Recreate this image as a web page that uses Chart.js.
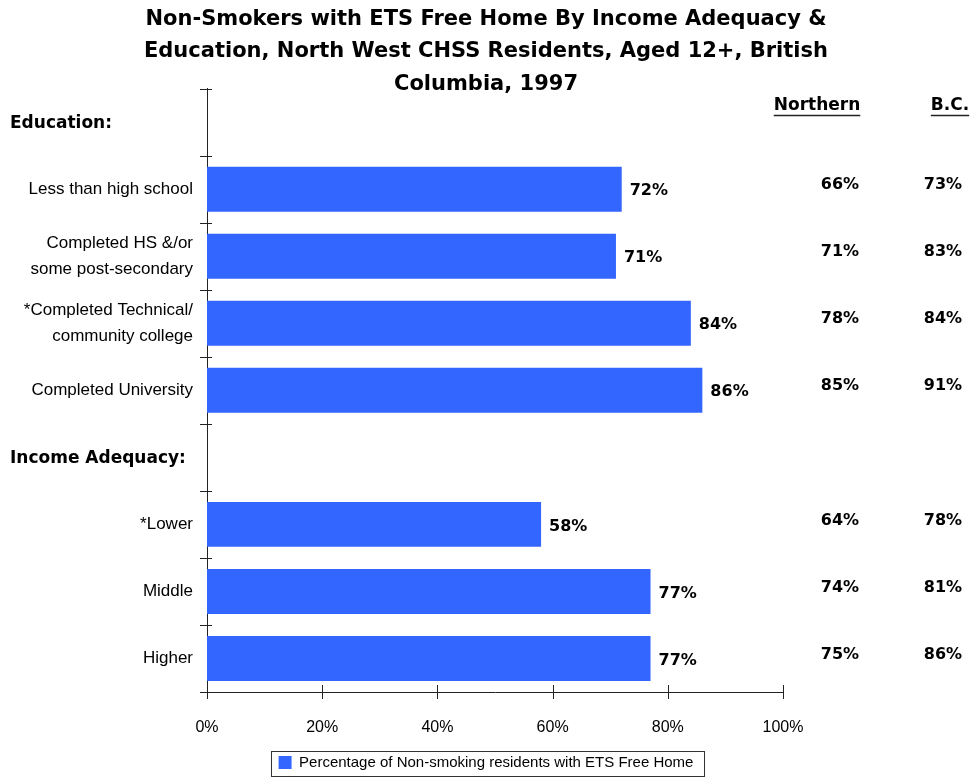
<!DOCTYPE html>
<html>
<head>
<meta charset="utf-8">
<script src="https://cdn.jsdelivr.net/npm/chart.js@4.4.0/dist/chart.umd.min.js"></script>
<style>
html, body { margin: 0; padding: 0; background: #fff; }
</style>
</head>
<body>
<canvas id="myChart" width="972" height="780"></canvas>
<script>
// rows of the chart, empty label = group header row
var labels = ['', 'Less than high school', ['Completed HS &/or', 'some post-secondary'],
  ['*Completed Technical/', 'community college'], 'Completed University',
  '', '*Lower', 'Middle', 'Higher'];
var groups = ['Education:', '', '', '', '', 'Income Adequacy:', '', '', ''];

// North West CHSS (bars), Northern and B.C. (comparison columns)
var northWest = [null, 72, 71, 84, 86, null, 58, 77, 77];
var northern  = [null, 66, 71, 78, 85, null, 64, 74, 75];
var bc        = [null, 73, 83, 84, 91, null, 78, 81, 86];

var xTicks = [0, 20, 40, 60, 80, 100];

var labelFont = '"Liberation Sans", Arial, sans-serif';
var boldFont = '"DejaVu Sans", Verdana, sans-serif';

// ticks crossing the axes, headers, value labels, comparison columns
var extras = {
  id: 'extras',
  afterDraw: function(chart) {
    var c = chart.ctx, y = chart.scales.y, x = chart.scales.x, a = chart.chartArea;
    var i, py;
    c.save();
    c.strokeStyle = '#222';
    c.lineWidth = 1;
    for (i = 0; i <= labels.length; i++) {
      py = Math.round(y.getPixelForValue(i - 0.5)) + 0.5;
      c.beginPath(); c.moveTo(a.left - 7, py); c.lineTo(a.left + 5, py); c.stroke();
    }
    xTicks.forEach(function(v) {
      var px = Math.round(x.getPixelForValue(v)) + 0.5;
      c.beginPath(); c.moveTo(px, a.bottom - 7); c.lineTo(px, a.bottom + 7); c.stroke();
    });

    c.fillStyle = '#000';
    c.textBaseline = 'middle';
    c.textAlign = 'left';
    c.font = 'bold 17px ' + boldFont;
    groups.forEach(function(g, i) {
      if (g) c.fillText(g, 10, y.getPixelForValue(i) + 1);
    });

    c.font = 'bold 16px ' + boldFont;
    chart.getDatasetMeta(0).data.forEach(function(bar, i) {
      if (northWest[i] == null) return;
      c.fillText(northWest[i] + '%', bar.x + 8, bar.y + 2);
    });

    var colN = a.right + 57, colB = a.right + 160;
    c.textAlign = 'center';
    for (i = 0; i < labels.length; i++) {
      if (northern[i] == null) continue;
      py = y.getPixelForValue(i) - 4;
      c.fillText(northern[i] + '%', colN, py);
      c.fillText(bc[i] + '%', colB, py);
    }

    // column headers, underlined
    c.font = 'bold 17px ' + boldFont;
    [['Northern', a.right + 34], ['B.C.', a.right + 167]].forEach(function(h) {
      var w = c.measureText(h[0]).width;
      c.fillText(h[0], h[1], 106);
      c.beginPath();
      c.moveTo(h[1] - w / 2, 115.5); c.lineTo(h[1] + w / 2, 115.5);
      c.lineWidth = 1.5; c.stroke();
    });

    // legend frame
    var hb = chart.legend.legendHitBoxes[0];
    if (hb) {
      c.lineWidth = 1;
      c.strokeStyle = '#333';
      c.strokeRect(Math.round(hb.left - 8) + 0.5, Math.round(hb.top - 4) + 0.5,
        Math.round(hb.width + 18), Math.round(hb.height + 10));
    }
    c.restore();
  }
};

var ctx = document.getElementById('myChart').getContext('2d');
var chart = new Chart(ctx, {
  type: 'bar',
  data: {
    labels: labels,
    datasets: [{
      label: 'Percentage of Non-smoking residents with ETS Free Home',
      data: northWest,
      backgroundColor: '#3366FF',
      categoryPercentage: 1,
      barPercentage: 0.67
    }]
  },
  plugins: [extras],
  options: {
    indexAxis: 'y',
    responsive: false,
    animation: false,
    layout: { padding: 0 },
    scales: {
      x: {
        min: 0,
        max: 100,
        grid: { display: false, drawTicks: false },
        border: { display: true, color: '#222' },
        ticks: {
          stepSize: 20,
          padding: 26,
          color: '#000',
          font: { family: labelFont, size: 16 },
          callback: function(v) { return v + '%'; }
        },
        afterFit: function(s) { s.height = 61; }
      },
      y: {
        grid: { display: false, drawTicks: false },
        border: { display: true, color: '#222' },
        ticks: {
          padding: 14,
          color: '#000',
          autoSkip: false,
          font: { family: labelFont, size: 17, lineHeight: 1.5 }
        },
        afterFit: function(s) { s.width = 207; }
      },
      // empty gutter on the right for the Northern / B.C. columns
      gutter: {
        type: 'linear',
        position: 'right',
        grid: { display: false, drawTicks: false },
        border: { display: false },
        ticks: { display: false },
        afterFit: function(s) { s.width = 189; }
      }
    },
    plugins: {
      title: {
        display: true,
        text: ['Non-Smokers with ETS Free Home By Income Adequacy &',
          'Education, North West CHSS Residents, Aged 12+, British',
          'Columbia, 1997'],
        color: '#000',
        font: { family: boldFont, size: 21, weight: 'bold', lineHeight: 1.55 },
        padding: { top: 3, bottom: -12 }
      },
      legend: {
        position: 'bottom',
        labels: {
          boxWidth: 13,
          boxHeight: 13,
          padding: 2,
          color: '#000',
          font: { family: labelFont, size: 15 }
        }
      },
      tooltip: { enabled: false }
    }
  }
});
</script>
</body>
</html>
